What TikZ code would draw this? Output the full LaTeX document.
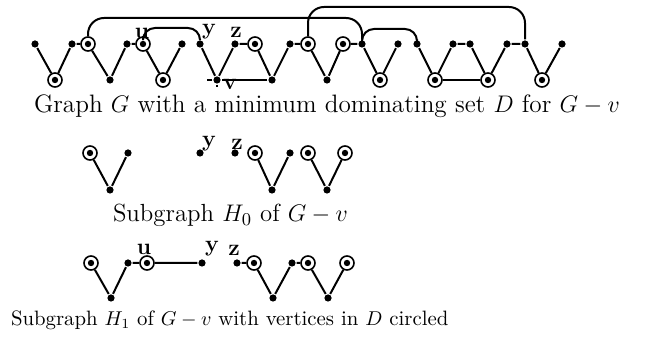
\documentclass[tikz,border=0pt]{standalone}
\usepackage{amsmath,amssymb}
\usepackage{tikz}
\usetikzlibrary{arrows.meta,positioning,calc}

\begin{document}
\begin{tikzpicture}[x=0.5pt,y=-0.5pt,line width=1pt,font=\fontsize{12.4}{14}\selectfont,
 v/.style={circle,fill,inner sep=0pt,minimum size=3.6pt},
 d/.style={circle,draw,line width=0.8pt,fill=white,inner sep=0pt,minimum size=7pt,
   label={[v,minimum size=3.2pt]center:}},
 lb/.style={font=\fontsize{11.5}{13}\selectfont\bfseries,inner sep=0pt},
 captxt/.style={anchor=base west,inner sep=0pt}]
\useasboundingbox (0,0) rectangle (647,340);
% graph G
\node[v] (t1) at (35,44) {};\node[v] (t2) at (72,44) {};\node[d] (t3) at (88,44) {};
\node[v] (t4) at (127,44) {};\node[d] (t5) at (143,44) {};\node[v] (t6) at (182,44) {};
\node[v] (t7) at (200,44) {};\node[v] (t8) at (235,44) {};\node[d] (t9) at (255,44) {};
\node[v] (t10) at (290,44) {};\node[d] (t11) at (308,44) {};\node[d] (t12) at (343,44) {};
\node[v] (t13) at (362,44) {};\node[v] (t14) at (398,44) {};\node[v] (t15) at (417,44) {};
\node[v] (t16) at (453,44) {};\node[v] (t17) at (470,44) {};\node[v] (t18) at (507,44) {};
\node[v] (t19) at (525,44) {};\node[v] (t20) at (562,44) {};
\node[d] (b1) at (55,80) {};\node[v] (b2) at (110,80) {};\node[d] (b3) at (163,80) {};
\node[v] (b4) at (217,80) {};\node[v] (b5) at (272,80) {};\node[v] (b6) at (327,80) {};
\node[d] (b7) at (380,80) {};\node[d] (b8) at (435,80) {};\node[d] (b9) at (488,80) {};
\node[d] (b10) at (542,80) {};
\draw (t1)--(b1)--(t2)--(t3)--(b2)--(t4)--(t5)--(b3)--(t6);
\draw (t7)--(b4)--(t8)--(t9)--(b5)--(t10)--(t11)--(b6)--(t12)--(t13)--(b7)--(t14);
\draw (t15)--(b8)--(t16)--(t17)--(b9)--(t18)--(t19)--(b10)--(t20);
\draw (b5)--(b4)--++(-10,0) (b4)--++(0,7);\draw (b8)--(b9);
\draw[rounded corners=8pt] (t3)--++(0,-26)-|(t13);
\draw[rounded corners=8pt] (t11)--++(0,-37)-|(t19);
\draw[rounded corners=6pt] (t13)--++(0,-15)-|(t15);
\draw[rounded corners=6pt] (t5)--++(0,-16)-|(t7);
\node[lb] at (142,33) {u};\node[lb] at (209,32) {y};\node[lb] at (236,32) {z};
\node[lb] at (230,84) {v};
\node[captxt,font=\fontsize{12.6}{14}\selectfont] (c1) at (33,113) {Graph $G$ with a minimum dominating set $D$ for $G-v$};
% subgraph H0
\node[d] (p3) at (90,153) {};\node[v] (q2) at (110,190) {};\node[v] (p4) at (128,153) {};
\node[v] (p7) at (200,153) {};\node[v] (p8) at (235,153) {};\node[d] (p9) at (255,153) {};
\node[v] (q5) at (272,190) {};\node[v] (p10) at (290,153) {};\node[d] (p11) at (308,153) {};
\node[v] (q6) at (327,190) {};\node[d] (p12) at (345,153) {};
\draw (p3)--(q2)--(p4) (p9)--(q5)--(p10) (p11)--(q6)--(p12);
\node[lb] at (209,144) {y};\node[lb] at (237,144) {z};
\node[captxt] (c2) at (112,222) {Subgraph $H_0$ of $G-v$};
% subgraph H1
\node[d] (r3) at (91,263) {};\node[v] (s2) at (111,298) {};\node[v] (r4) at (128,263) {};
\node[d] (r5) at (147,263) {};\node[v] (r7) at (202,263) {};\node[v] (r8) at (237,263) {};
\node[d] (r9) at (254,263) {};\node[v] (s5) at (273,298) {};\node[v] (r10) at (292,263) {};
\node[d] (r11) at (308,263) {};\node[v] (s6) at (328,298) {};\node[d] (r12) at (347,263) {};
\draw (r3)--(s2)--(r4)--(r5)--(r7) (r8)--(r9)--(s5)--(r10)--(r11)--(s6)--(r12);
\node[lb] at (144,249) {u};\node[lb] at (212,249) {y};\node[lb] at (234,250) {z};
\node[captxt,font=\fontsize{10.4}{13}\selectfont] (c3) at (10,326) {Subgraph $H_1$ of $G-v$ with vertices in $D$ circled};
\end{tikzpicture}
\end{document}
